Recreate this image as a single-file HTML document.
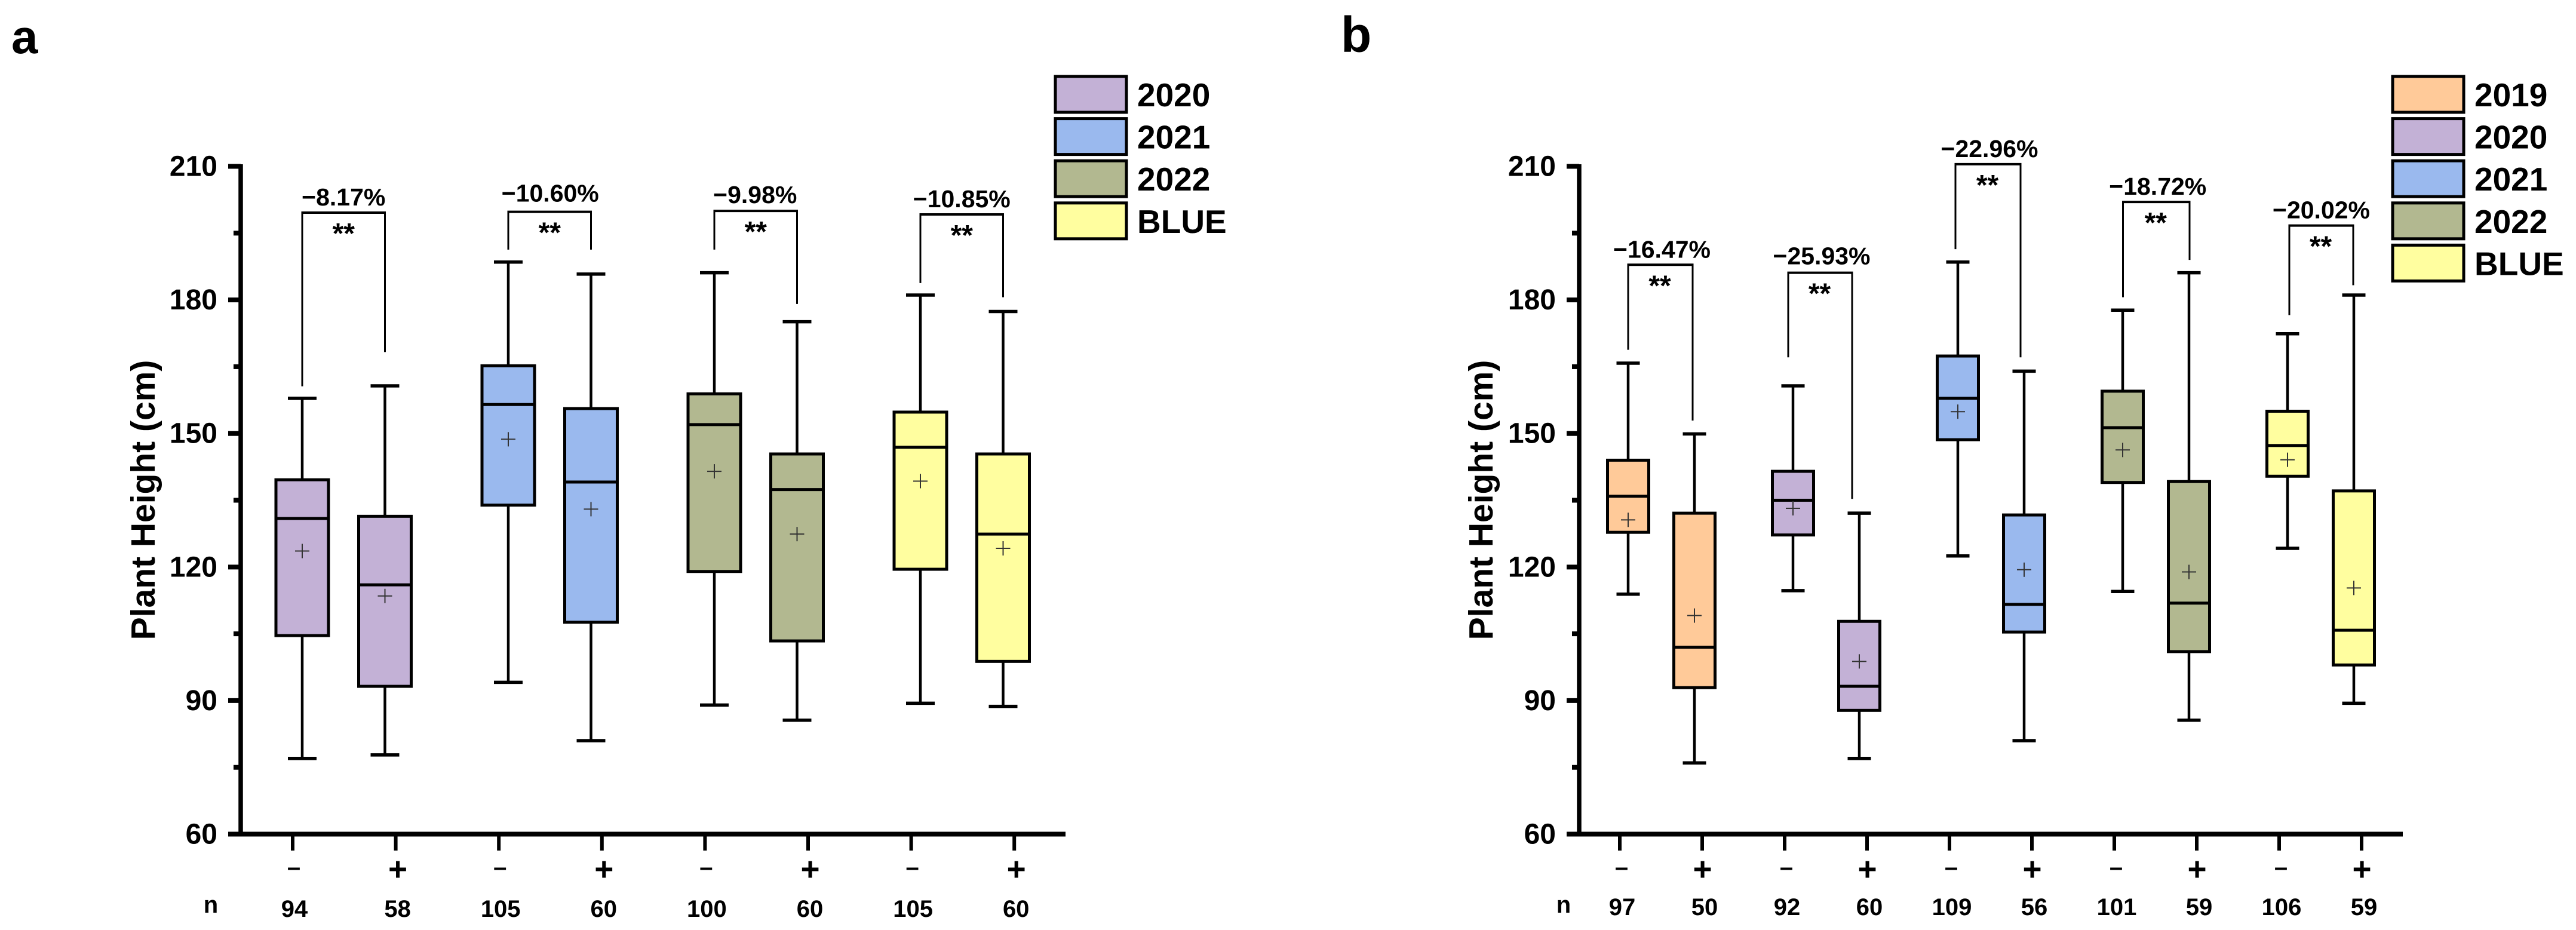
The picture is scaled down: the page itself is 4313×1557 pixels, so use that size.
<!DOCTYPE html>
<html lang="en">
<head>
<meta charset="utf-8">
<title>Plant height box plots</title>
<style>
html,body{margin:0;padding:0;background:#fff;}
svg{display:block;}
text{font-family:"Liberation Sans",sans-serif;font-weight:bold;fill:#000;}
</style>
</head>
<body>
<svg id="figure" xmlns="http://www.w3.org/2000/svg" width="4313" height="1557" viewBox="0 0 4313 1557">
  <rect x="0" y="0" width="4313" height="1557" fill="#fff"/>
  <text x="19" y="89" font-size="80">a</text>
  <text x="2245" y="87" font-size="84">b</text>
  <text transform="translate(259,837) rotate(-90)" text-anchor="middle" font-size="57">Plant Height (cm)</text>
  <text transform="translate(2499,837) rotate(-90)" text-anchor="middle" font-size="57">Plant Height (cm)</text>
  <text x="353" y="1528" text-anchor="middle" font-size="40">n</text>
  <text x="2618" y="1528" text-anchor="middle" font-size="40">n</text>
  <g id="panel-a"></g>
  <g id="panel-b"></g>
</svg>
<script>
// ---- Shared axis ticks ----
const yTickValues = [60, 90, 120, 150, 180, 210];
const yMinorValues = [75, 105, 135, 165, 195];

// ---- Panel a data ----
const legendA = ['2020', '2021', '2022', 'BLUE'];
const seriesA = ['2020', '2020', '2021', '2021', '2022', '2022', 'BLUE', 'BLUE'];
const treatmentA = ['–', '+', '–', '+', '–', '+', '–', '+'];
const countsA = ['94', '58', '105', '60', '100', '60', '105', '60'];
const lowA = [77.0, 77.8, 94.1, 81.0, 89.0, 85.6, 89.4, 88.7];
const q1A = [104.6, 93.2, 133.9, 107.6, 119.0, 103.4, 119.5, 98.8];
const medianA = [130.9, 116.0, 156.5, 139.1, 152.0, 137.4, 146.9, 127.4];
const q3A = [139.6, 131.4, 165.2, 155.6, 158.9, 145.4, 154.8, 145.4];
const highA = [157.9, 160.7, 188.5, 185.8, 186.1, 175.1, 181.1, 177.4];
const meanA = [123.6, 113.5, 148.7, 133.0, 141.5, 127.4, 139.3, 124.2];
const changeA = ['−8.17%', '−10.60%', '−9.98%', '−10.85%'];
const bracketTopA = [199.6, 199.8, 200.0, 199.2];
const legLeftA = [160.6, 191.3, 191.3, 183.8];
const legRightA = [168.3, 191.3, 179.1, 180.6];

// ---- Panel b data ----
const legendB = ['2019', '2020', '2021', '2022', 'BLUE'];
const seriesB = ['2019', '2019', '2020', '2020', '2021', '2021', '2022', '2022', 'BLUE', 'BLUE'];
const treatmentB = ['–', '+', '–', '+', '–', '+', '–', '+', '–', '+'];
const countsB = ['97', '50', '92', '60', '109', '56', '101', '59', '106', '59'];
const lowB = [113.9, 76.0, 114.7, 77.0, 122.5, 81.0, 114.5, 85.6, 124.2, 89.4];
const q1B = [127.8, 92.9, 127.2, 87.8, 148.6, 105.4, 139.0, 101.0, 140.4, 98.0];
const medianB = [135.9, 102.0, 135.0, 93.2, 157.9, 111.6, 151.3, 111.9, 147.3, 105.8];
const q3B = [144.0, 132.1, 141.5, 107.8, 167.4, 131.7, 159.5, 139.2, 155.0, 137.1];
const highB = [165.8, 149.9, 160.7, 132.1, 188.5, 164.0, 177.7, 186.1, 172.4, 181.1];
const meanB = [130.6, 109.1, 133.2, 98.8, 154.9, 119.4, 146.3, 118.9, 144.1, 115.3];
const changeB = ['−16.47%', '−25.93%', '−22.96%', '−18.72%', '−20.02%'];
const bracketTopB = [187.9, 186.1, 210.5, 202.0, 196.7];
const legLeftB = [168.8, 167.1, 191.4, 180.6, 176.6];
const legRightB = [152.9, 135.3, 167.1, 189.0, 183.3];

const palette = {'2019': '#FFCA99', '2020': '#C3B1D6', '2021': '#9AB9EE', '2022': '#B2B890', 'BLUE': '#FFFE9F'};

const NS = 'http://www.w3.org/2000/svg';

// Vertical axis shared by both panels
function yScale(v) { return 1396.5 - (v - 60) * 7.453; }

function line(parent, x1, y1, x2, y2, width, color) {
  const el = document.createElementNS(NS, 'line');
  el.setAttribute('x1', x1);
  el.setAttribute('y1', y1);
  el.setAttribute('x2', x2);
  el.setAttribute('y2', y2);
  el.setAttribute('stroke', color || '#000');
  el.setAttribute('stroke-width', width);
  parent.appendChild(el);
  return el;
}

function label(parent, str, x, y, size, anchor) {
  const el = document.createElementNS(NS, 'text');
  el.setAttribute('x', x);
  el.setAttribute('y', y);
  el.setAttribute('font-size', size);
  el.setAttribute('text-anchor', anchor || 'middle');
  el.textContent = str;
  parent.appendChild(el);
  return el;
}

function group(parent, name) {
  const g = document.createElementNS(NS, 'g');
  
  
  parent.appendChild(g);
  return g;
}

function drawPanel(root, d) {
  // Boxes
  d.series.forEach(function (s, i) {
    const g = group(root, 'box-' + s.toLowerCase() + '-' + (i % 2 ? 'plus' : 'minus') + '-' + i);
    const cx = d.xBox(i);
    line(g, cx, yScale(d.low[i]), cx, yScale(d.high[i]), 4.5);
    line(g, cx - d.capW / 2, yScale(d.high[i]), cx + d.capW / 2, yScale(d.high[i]), 5.5);
    line(g, cx - d.capW / 2, yScale(d.low[i]), cx + d.capW / 2, yScale(d.low[i]), 5.5);
    const r = document.createElementNS(NS, 'rect');
    r.setAttribute('x', cx - d.boxW / 2);
    r.setAttribute('y', yScale(d.q3[i]));
    r.setAttribute('width', d.boxW);
    r.setAttribute('height', yScale(d.q1[i]) - yScale(d.q3[i]));
    r.setAttribute('fill', palette[s]);
    r.setAttribute('stroke', '#000');
    r.setAttribute('stroke-width', 5);
    g.appendChild(r);
    line(g, cx - d.boxW / 2, yScale(d.median[i]), cx + d.boxW / 2, yScale(d.median[i]), 5);
    const my = yScale(d.mean[i]);
    line(g, cx - 12, my, cx + 12, my, 2, '#333');
    line(g, cx, my - 12, cx, my + 12, 2, '#333');
  });

  // Significance brackets
  d.change.forEach(function (txt, k) {
    const g = group(root, 'significance-bracket-' + k);
    const xl = d.xBox(k * 2) + d.nudge.left[k];
    const xr = d.xBox(k * 2 + 1) + d.nudge.right[k];
    const yTop = yScale(d.bracketTop[k]);
    line(g, xl - 1.5, yTop, xr + 1.5, yTop, 4);
    line(g, xl, yTop, xl, yScale(d.legLeft[k]), 3);
    line(g, xr, yTop, xr, yScale(d.legRight[k]), 3);
    label(g, txt, (xl + xr) / 2 + d.nudge.labelX[k], yTop - 12 + d.nudge.labelY[k], 41);
    label(g, '**', (xl + xr) / 2 + d.nudge.starX, yTop + 51, 48);
  });

  // Axes
  const axes = group(root, 'axes');
  line(axes, d.axisX, 275, d.axisX, 1400, 7.5);
  line(axes, d.axisX - 21, 1396.5, d.xEnd, 1396.5, 8);
  yTickValues.forEach(function (v) {
    line(axes, d.axisX - 21, yScale(v), d.axisX, yScale(v), 8);
    label(axes, String(v), d.tickLabelRight, yScale(v) + 16, 48, 'end');
  });
  yMinorValues.forEach(function (v) {
    line(axes, d.axisX - 12, yScale(v), d.axisX, yScale(v), 8);
  });
  d.series.forEach(function (s, i) {
    const tx = d.xTick(i);
    line(axes, tx, 1396.5, tx, 1424, 6);
    const plus = d.treatment[i] === '+';
    label(axes, d.treatment[i], tx + (plus ? d.plusShift : d.minusShift), plus ? 1474 : 1465, plus ? 55 : 40);
    label(axes, d.counts[i], tx + d.countShift, d.countY, 40);
  });

  // Legend
  d.legend.forEach(function (name, j) {
    const g = group(root, 'legend-entry-' + name.toLowerCase());
    const top = 128 + j * 70.6;
    const r = document.createElementNS(NS, 'rect');
    r.setAttribute('x', d.legendX);
    r.setAttribute('y', top);
    r.setAttribute('width', d.legendW);
    r.setAttribute('height', 60);
    r.setAttribute('fill', palette[name]);
    r.setAttribute('stroke', '#000');
    r.setAttribute('stroke-width', 5);
    g.appendChild(r);
    label(g, name, d.legendX + d.legendW + 18, top + 50, 55, 'start');
  });
}

drawPanel(document.getElementById('panel-a'), {
  series: seriesA, treatment: treatmentA, counts: countsA,
  low: lowA, q1: q1A, median: medianA, q3: q3A, high: highA, mean: meanA,
  change: changeA, bracketTop: bracketTopA, legLeft: legLeftA, legRight: legRightA,
  legend: legendA,
  xBox: function (i) { return 506 + Math.floor(i / 2) * 345 + (i % 2) * 138.5; },
  xTick: function (i) { return 490 + i * 172.6; },
  nudge: { left: [0, 0, 0, 0], right: [0, 0, 0, 0], labelX: [0, 1, -1, 0], labelY: [0, -5, -1, 0], starX: 0 },
  boxW: 88, capW: 48, axisX: 403, xEnd: 1784, tickLabelRight: 364,
  plusShift: 3.5, minusShift: 2, countShift: 3,
  countY: 1535, legendX: 1767, legendW: 119
});

drawPanel(document.getElementById('panel-b'), {
  series: seriesB, treatment: treatmentB, counts: countsB,
  low: lowB, q1: q1B, median: medianB, q3: q3B, high: highB, mean: meanB,
  change: changeB, bracketTop: bracketTopB, legLeft: legLeftB, legRight: legRightB,
  legend: legendB,
  xBox: function (i) { return 2726 + Math.floor(i / 2) * 276 + (i % 2) * 111; },
  xTick: function (i) { return 2712 + i * 138; },
  nudge: { left: [0, -8, -4, 0.5, 3], right: [-3, -12, -6, 1, -1], labelX: [2.5, 2.5, 2.5, 2.5, 0], labelY: [0, -2, 0, 0, 0], starX: -1 },
  boxW: 69, capW: 39, axisX: 2644, xEnd: 4023, tickLabelRight: 2605,
  plusShift: 0.5, minusShift: 3, countShift: 4,
  countY: 1532, legendX: 4006, legendW: 119
});
</script>
</body>
</html>
